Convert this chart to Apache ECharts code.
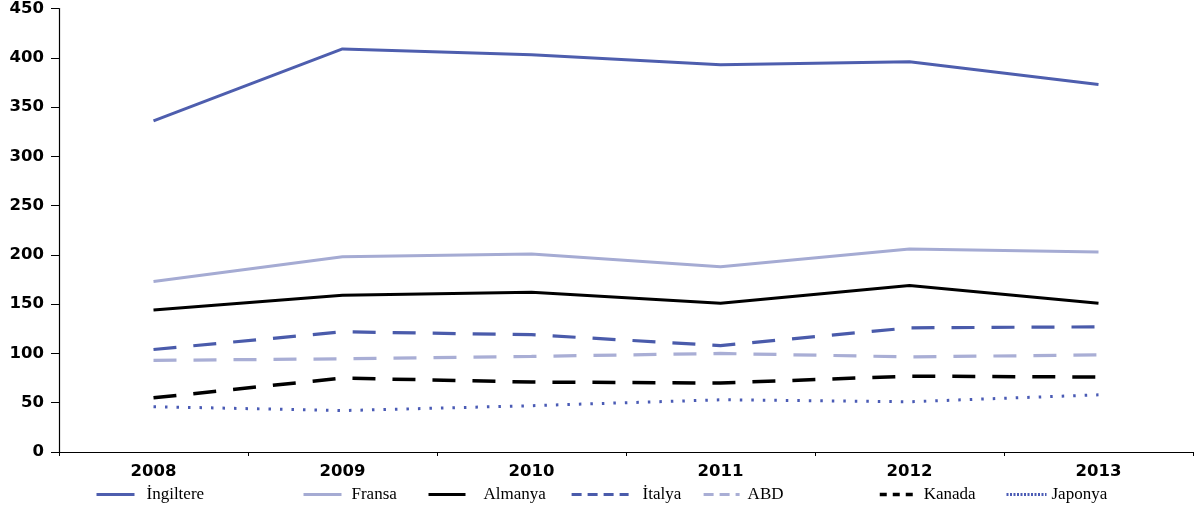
<!DOCTYPE html>
<html>
<head>
<meta charset="utf-8">
<script src="https://cdn.jsdelivr.net/npm/echarts@6/dist/echarts.min.js"></script>
<style>html,body{margin:0;padding:0;background:#fff}#c{width:1199px;height:510px}</style>
</head>
<body>
<div id="c"></div>
<script>
const years = ['2008','2009','2010','2011','2012','2013'];
const yTicks = [0,50,100,150,200,250,300,350,400,450];
const seriesNames = ['İngiltere','Fransa','Almanya','İtalya','ABD','Kanada','Japonya'];
const ingiltere = [336, 409, 403, 393, 396, 373];
const fransa = [173, 198, 201, 188, 206, 203];
const almanya = [144, 159, 162, 151, 169, 151];
const italya = [104, 122, 119, 108, 126, 127];
const abd = [93, 94.5, 97, 100, 96.5, 98.5];
const kanada = [55, 75, 71, 70, 77, 76];
const japonya = [46, 42, 47, 53, 51, 58];

const values = [ingiltere, fransa, almanya, italya, abd, kanada, japonya];
const styles = [
  {color:'#4e5eae', width:3, type:'solid'},
  {color:'#a5abd3', width:3, type:'solid'},
  {color:'#000000', width:3, type:'solid'},
  {color:'#4a5bab', width:3.2, type:[23,17]},
  {color:'#a9aed5', width:3.2, type:[23,17]},
  {color:'#000000', width:3.5, type:[23,17]},
  {color:'#4a5bb5', width:3, type:[2.5,9]}
];
const legendPos = [
  {left:95, w:38, pad:7},
  {left:302, w:38, pad:5},
  {left:427, w:37, pad:13},
  {left:570, w:57, pad:9},
  {left:702, w:36, pad:3},
  {left:878, w:37, pad:2},
  {left:1005, w:40, pad:0}
];
const legendDash = ['solid','solid','solid',[10,6],[10,6],[7,6],[2,1.5]];

const chart = echarts.init(document.getElementById('c'), null, {renderer:'canvas'});
const series = seriesNames.map((n,i)=>({
  name:n, type:'line', data:values[i], symbol:'none', showSymbol:false, smooth:false,
  lineStyle:{color:styles[i].color, width:styles[i].width, type:styles[i].type, cap:'butt'},
  itemStyle:{color:styles[i].color},
  animation:false
}));
const legends = seriesNames.map((n,i)=>({
  data:[n], left:legendPos[i].left, top:486, itemWidth:legendPos[i].w, itemHeight:14,
  padding:0,
  itemStyle:{opacity:0, borderWidth:0},
  lineStyle:{width:styles[i].width, type:legendDash[i]},
  textStyle:{fontFamily:'"Liberation Serif", serif', fontSize:17, color:'#000', padding:[0,0,0,legendPos[i].pad]}
}));
chart.setOption({
  animation:false,
  grid:{left:59, right:6, top:7, bottom:58, containLabel:false},
  legend:legends,
  xAxis:{
    type:'category', data:years, boundaryGap:true,
    axisLine:{lineStyle:{color:'#000', width:1.2}},
    axisTick:{show:true, inside:false, length:4, alignWithLabel:false, lineStyle:{color:'#000'}},
    axisLabel:{color:'#000', fontFamily:'"DejaVu Sans", sans-serif', fontWeight:'bold', fontSize:16.5, margin:11},
    splitLine:{show:false}
  },
  yAxis:{
    type:'value', min:yTicks[0], max:yTicks[yTicks.length-1], interval:50,
    axisLine:{show:true, lineStyle:{color:'#000', width:1.2}},
    axisTick:{show:true, length:8, lineStyle:{color:'#000'}},
    axisLabel:{color:'#000', fontFamily:'"DejaVu Sans", sans-serif', fontWeight:'bold', fontSize:16.5, margin:15},
    splitLine:{show:false}
  },
  series:series
});
</script>
</body>
</html>
